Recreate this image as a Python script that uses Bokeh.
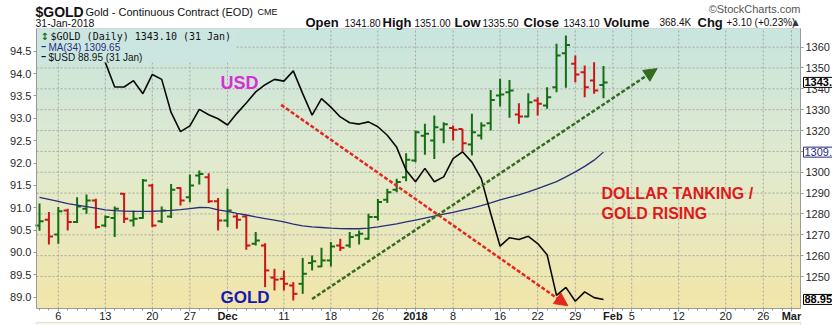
import numpy as np
from bokeh.plotting import figure
from bokeh.models import (Range1d, LinearAxis, FixedTicker, Label, LabelSet,
                          ColumnDataSource, BoxAnnotation, Arrow, NormalHead,
                          NumeralTickFormatter)
from bokeh.core.properties import value
from bokeh.embed import file_html
from bokeh.resources import INLINE

# ---------------- data ----------------
gold_open = [1274.5, 1277.2, 1270.1, 1281.7, 1276.1, 1282.5, 1286.5, 1274.5, 1278.1, 1289.7,
             1276.9, 1278.1, 1293.6, 1276.5, 1278.8, 1292.5, 1288.0, 1298.4, 1297.6, 1286.1,
             1276.9, 1278.8, 1278.8, 1265.7, 1264.9, 1249.5, 1248.9, 1245.7, 1246.5, 1256.5,
             1254.8, 1257.7, 1264.9, 1264.9, 1269.8, 1268.1, 1278.5, 1286.8, 1291.6, 1297.6,
             1305.6, 1317.5, 1315.2, 1320.5, 1321.2, 1320.8, 1313.3, 1317.6, 1323.5, 1336.8,
             1338.4, 1327.7, 1326.7, 1334.4, 1332.0, 1340.8, 1357.1, 1352.0, 1348.0, 1344.0,
             1341.8]
gold_high = [1285.0, 1280.9, 1283.3, 1282.5, 1288.0, 1289.3, 1287.3, 1279.3, 1283.6, 1290.0,
             1281.7, 1296.8, 1294.4, 1283.6, 1294.4, 1292.8, 1298.9, 1300.8, 1299.5, 1287.7,
             1292.1, 1280.1, 1279.3, 1271.3, 1266.0, 1253.7, 1252.9, 1247.3, 1258.9, 1260.1,
             1263.8, 1266.5, 1268.1, 1271.3, 1272.1, 1280.1, 1287.2, 1292.1, 1296.9, 1309.1,
             1320.0, 1323.2, 1327.2, 1324.0, 1322.4, 1320.8, 1328.0, 1324.0, 1339.5, 1344.8,
             1344.3, 1333.1, 1337.9, 1336.0, 1340.8, 1361.6, 1365.6, 1356.0, 1351.2, 1352.8,
             1351.0]
gold_low = [1272.0, 1265.3, 1265.7, 1272.1, 1275.6, 1280.1, 1272.9, 1273.7, 1268.9, 1275.6,
            1274.0, 1277.7, 1273.7, 1275.6, 1278.1, 1284.1, 1285.6, 1294.1, 1285.2, 1272.1,
            1273.7, 1272.9, 1262.8, 1264.9, 1244.9, 1243.3, 1243.3, 1238.5, 1241.7, 1252.9,
            1254.5, 1254.8, 1262.2, 1263.8, 1265.4, 1267.6, 1276.9, 1285.2, 1290.4, 1295.7,
            1304.8, 1308.4, 1306.4, 1313.9, 1315.2, 1310.1, 1308.0, 1315.7, 1320.0, 1331.5,
            1326.1, 1323.2, 1326.4, 1327.2, 1330.4, 1338.4, 1340.5, 1343.2, 1336.0, 1337.6,
            1335.5]
gold_close = [1276.5, 1269.2, 1281.3, 1276.1, 1283.6, 1286.5, 1273.7, 1278.5, 1282.5, 1277.7,
              1277.7, 1296.0, 1274.5, 1281.7, 1291.6, 1286.5, 1293.6, 1299.2, 1286.1, 1276.9,
              1281.7, 1277.2, 1264.9, 1267.3, 1252.9, 1248.5, 1246.5, 1241.7, 1251.3, 1257.3,
              1257.7, 1264.4, 1263.8, 1268.9, 1270.5, 1278.5, 1285.7, 1290.4, 1295.3, 1306.0,
              1319.2, 1318.5, 1321.6, 1323.0, 1320.4, 1313.9, 1319.2, 1322.4, 1334.7, 1337.3,
              1339.2, 1326.7, 1333.6, 1332.8, 1336.0, 1356.0, 1361.0, 1346.9, 1340.8, 1339.2,
              1343.1]
gold_ma34 = [1288.0, 1287.0, 1286.0, 1285.0, 1284.2, 1283.5, 1282.8, 1282.0, 1281.6, 1281.4,
             1281.2, 1281.2, 1281.3, 1281.5, 1281.7, 1282.1, 1282.6, 1283.1, 1283.0, 1282.0,
             1281.2, 1280.3, 1279.5, 1278.6, 1277.8, 1277.0, 1276.2, 1275.1, 1274.3, 1273.8,
             1273.5, 1273.2, 1273.0, 1272.9, 1272.9, 1273.2, 1273.8, 1274.5, 1275.2, 1276.2,
             1277.0, 1278.0, 1279.0, 1279.9, 1280.8, 1281.8, 1282.8, 1284.0, 1285.3, 1286.8,
             1288.0, 1289.2, 1290.6, 1292.1, 1293.8, 1295.5, 1297.8, 1300.2, 1302.8, 1305.8,
             1309.65]
usd_close = [94.70, 94.90, 94.80, 94.90, 94.85, 94.40, 94.40, 94.25, 93.70, 93.70,
             93.84, 93.55, 93.98, 93.87, 93.13, 92.70, 92.83, 93.20, 93.08, 92.99,
             92.85, 93.11, 93.34, 93.59, 93.75, 93.87, 93.83, 94.06, 93.55, 93.07,
             93.44, 93.25, 93.03, 92.90, 92.87, 92.92, 92.81, 92.62, 92.35, 91.84,
             91.58, 91.88, 91.58, 91.69, 92.10, 92.25, 92.02, 91.65, 90.87, 90.14,
             90.33, 90.29, 90.36, 90.20, 89.95, 89.04, 89.22, 88.91, 89.12, 88.99,
             88.95]

x_tick_pos = [2, 7, 12, 16, 20, 26, 31, 36, 40, 44, 49, 53, 57, 61, 63, 68, 73, 77, 80]
x_tick_labels = ["6", "13", "20", "27", "Dec", "11", "18", "26", "2018", "8", "16", "22",
                 "29", "Feb", "5", "12", "20", "26", "Mar"]
x_bold_labels = ["Dec", "2018", "Feb", "Mar"]
usd_ticks = [89.0, 89.5, 90.0, 90.5, 91.0, 91.5, 92.0, 92.5, 93.0, 93.5, 94.0, 94.5]
gold_ticks = [1250, 1260, 1270, 1280, 1290, 1300, 1310, 1320, 1330, 1340, 1350, 1360]

# ---------------- geometry / style ----------------
W, H = 832, 325
FONT = "Liberation Sans"
# full-canvas ranges (frame == canvas, so outside texts are not clipped)
VX0, VX1 = -4.149, 84.362
VU0, VU1 = 88.367, 95.633
VG0, VG1 = 1226.50, 1382.37
# chart area inside the canvas
CX0, CX1 = -0.319, 80.957
CU0, CU1 = 88.747, 95.007
CG0, CG1 = 1234.65, 1368.9
GRID = "#a6a6a6"
AXC = "#9a9a9a"

n = len(gold_close)
idx = list(range(n))

p = figure(width=W, height=H, x_range=Range1d(VX0, VX1), y_range=Range1d(VU0, VU1),
           output_backend="svg", toolbar_location=None, title=None, min_border=0)
p.extra_y_ranges = {"gold": Range1d(VG0, VG1)}
p.background_fill_color = "white"
p.border_fill_color = "white"
p.outline_line_color = None
p.grid.visible = False

# background gradient of the chart area (teal top -> pale yellow bottom)
rows = 140
t = np.linspace(0.0, 1.0, rows)
st = [0.0, 0.5, 1.0]
rr = np.interp(t, st, [242, 226, 200])
gg = np.interp(t, st, [230, 235, 229])
bb = np.interp(t, st, [170, 206, 223])
img = np.empty((rows, 2), dtype=np.uint32)
view = img.view(dtype=np.uint8).reshape((rows, 2, 4))
view[:, :, 0] = rr[:, None].astype(np.uint8)
view[:, :, 1] = gg[:, None].astype(np.uint8)
view[:, :, 2] = bb[:, None].astype(np.uint8)
view[:, :, 3] = 255
p.image_rgba(image=[img], x=CX0, y=CU0, dw=CX1 - CX0, dh=CU1 - CU0, level="image")

# dotted grid lines at the tick positions, limited to the chart area
p.segment(x0=x_tick_pos, y0=CU0, x1=x_tick_pos, y1=CU1, line_color=GRID, line_dash="2 2", line_width=1)
p.segment(x0=CX0, y0=gold_ticks, x1=CX1, y1=gold_ticks, line_color=GRID, line_dash="2 2",
          line_width=1, y_range_name="gold")

# axes fixed on the chart-area edges
ax_font = dict(major_label_text_font=FONT, major_label_text_font_size="11px",
               major_label_text_color="#2a2a2a")
xa = p.xaxis[0]
xa.fixed_location = CU0
xa.bounds = (CX0, CX1)
xa.ticker = FixedTicker(ticks=x_tick_pos, minor_ticks=list(range(0, 81)))
xa.major_label_text_color = None
xa.major_tick_out = 3
xa.major_tick_in = 0
xa.minor_tick_out = 2
xa.minor_tick_in = 0
xa.axis_line_color = AXC
xa.major_tick_line_color = AXC
xa.minor_tick_line_color = AXC

ya = p.yaxis[0]
ya.fixed_location = CX0
ya.bounds = (CU0, CU1)
ya.ticker = FixedTicker(ticks=usd_ticks)
ya.formatter = NumeralTickFormatter(format="0.0")
ya.major_tick_out = 3
ya.major_tick_in = 0
ya.minor_tick_line_color = None
ya.axis_line_color = AXC
ya.major_tick_line_color = AXC
ya.major_label_standoff = 2
for k, v in ax_font.items():
    setattr(ya, k, v)

gold_axis = LinearAxis(y_range_name="gold", ticker=FixedTicker(ticks=gold_ticks),
                       fixed_location=CX1, bounds=(CG0, CG1),
                       major_tick_out=3, major_tick_in=0, minor_tick_line_color=None,
                       axis_line_color=AXC, major_tick_line_color=AXC,
                       major_label_standoff=2, **ax_font)
p.add_layout(gold_axis, "right")

# OHLC bars
bar_colors = ["#146e14" if c >= o else "#cc1616" for o, c in zip(gold_open, gold_close)]
TICK = 0.44
src = ColumnDataSource(dict(x=idx, o=gold_open, h=gold_high, l=gold_low, c=gold_close,
                            col=bar_colors, xl=[i - TICK for i in idx], xr=[i + TICK for i in idx]))
p.segment(x0="x", y0="l", x1="x", y1="h", line_color="col", line_width=2, y_range_name="gold", source=src)
p.segment(x0="xl", y0="o", x1="x", y1="o", line_color="col", line_width=2, y_range_name="gold", source=src)
p.segment(x0="x", y0="c", x1="xr", y1="c", line_color="col", line_width=2, y_range_name="gold", source=src)

# MA(34) and USD
p.line(idx, gold_ma34, y_range_name="gold", line_color="#262f7c", line_width=1.3)
p.line(idx, usd_close, line_color="#0a0a0a", line_width=1.6)

# trend arrows
RED, DGREEN = "#e3281f", "#356b1f"
p.add_layout(Arrow(end=NormalHead(size=13, fill_color=RED, line_color=RED),
                   x_start=25.7, y_start=93.30, x_end=56.2, y_end=88.81,
                   line_color=RED, line_width=2.5, line_dash="4 2"))
p.add_layout(Arrow(end=NormalHead(size=13, fill_color=DGREEN, line_color=DGREEN),
                   x_start=29.0, y_start=88.96, x_end=65.7, y_end=94.11,
                   line_color=DGREEN, line_width=2.5, line_dash="4 2"))

# chart-area outline and the top edge of the next (empty) panel
p.add_layout(BoxAnnotation(left=CX0, right=CX1, bottom=CU0, top=CU1, fill_alpha=0,
                           line_color=AXC, line_width=1))
p.add_layout(BoxAnnotation(left=36, right=800, bottom=-2, top=3, left_units="screen",
                           right_units="screen", bottom_units="screen", top_units="screen",
                           fill_color="#f3eecb", line_color=AXC, line_width=1))


def lab(text, X, Y, size, color="#111111", bold=False, align="left", font=FONT, **kw):
    p.add_layout(Label(x=X, y=H - Y, x_units="screen", y_units="screen", text=text,
                       text_font=font, text_font_size=f"{size}px", text_color=color,
                       text_font_style="bold" if bold else "normal", text_align=align,
                       text_baseline="middle", **kw))


# legend box
p.add_layout(BoxAnnotation(left=36.5, right=236, bottom=H - 62, top=H - 28.5,
                           left_units="screen", right_units="screen",
                           bottom_units="screen", top_units="screen",
                           fill_color="#cbe6e1", fill_alpha=1.0, line_color=None))
lab("\u2195", 40, 36, 10, color="#146e14", bold=True, font="DejaVu Sans")
lab("$GOLD (Daily) 1343.10 (31 Jan)", 50, 36, 10, font="DejaVu Sans Mono")
lab("\u2501", 41, 46.5, 7, color="#262f7c", font="DejaVu Sans")
lab("MA(34) 1309.65", 48, 46.5, 10, color="#262f7c")
lab("\u2501", 41, 56.5, 7, color="#111111", font="DejaVu Sans")
lab("$USD 88.95 (31 Jan)", 48, 56.5, 10)

# chart annotations
lab("USD", 220, 82, 18, color="#d62fd6", bold=True)
lab("GOLD", 220, 297, 17, color="#1818b4", bold=True)
lab("DOLLAR TANKING /", 601, 193, 16, color="#e01a1a", bold=True)
lab("GOLD RISING", 601, 213, 16, color="#e01a1a", bold=True)

# header
lab("$GOLD", 35, 11, 14, bold=True)
lab("Gold - Continuous Contract (EOD)", 85, 11, 11)
lab("CME", 257, 11.5, 9)
lab("31-Jan-2018", 35, 22, 10.5)
lab("\u00a9StockCharts.com", 800, 8, 11, color="#555555", align="right")
hdr = [("Open", 305, True), ("1341.80", 344, False), ("High", 382, True), ("1351.00", 414, False),
       ("Low", 454, True), ("1335.50", 482, False), ("Close", 523, True), ("1343.10", 563, False),
       ("Volume", 603, True), ("368.4K", 659, False), ("Chg", 697, True),
       ("+3.10 (+0.23%)", 726, False)]
for txt, X, b in hdr:
    lab(txt, X, 22, 13 if b else 10, bold=b)
lab("\u25b2", 792, 22, 8, color="#333333", font="DejaVu Sans")

# x tick labels (numbers normal, months/years bold)
for bold in (False, True):
    pos = [x for x, t in zip(x_tick_pos, x_tick_labels) if (t in x_bold_labels) == bold]
    txt = [t for t in x_tick_labels if (t in x_bold_labels) == bold]
    p.add_layout(LabelSet(x="x", y=H - 315, y_units="screen", text="t",
                          source=ColumnDataSource(dict(x=pos, t=txt)),
                          text_font=value(FONT), text_font_size="11px", text_color="#1a1a1a",
                          text_font_style="bold" if bold else "normal",
                          text_align="center", text_baseline="middle"))

# price tags on the right axis
tag_kw = dict(x=803, x_units="screen", text_font=FONT, text_font_size="11px",
              text_baseline="middle", text_align="left", background_fill_color="white",
              padding=1)
p.add_layout(Label(y=gold_close[-1], y_range_name="gold", text=f"{gold_close[-1]:.1f}",
                   text_color="black", text_font_style="bold", border_line_color="black", **tag_kw))
p.add_layout(Label(y=gold_ma34[-1], y_range_name="gold", text="1309.6",
                   text_color="#262f7c", border_line_color="#262f7c", **tag_kw))
p.add_layout(Label(y=usd_close[-1], text=f"{usd_close[-1]:.2f}",
                   text_color="black", text_font_style="bold", border_line_color="black", **tag_kw))

open("out.html", "w").write(file_html(p, INLINE))
